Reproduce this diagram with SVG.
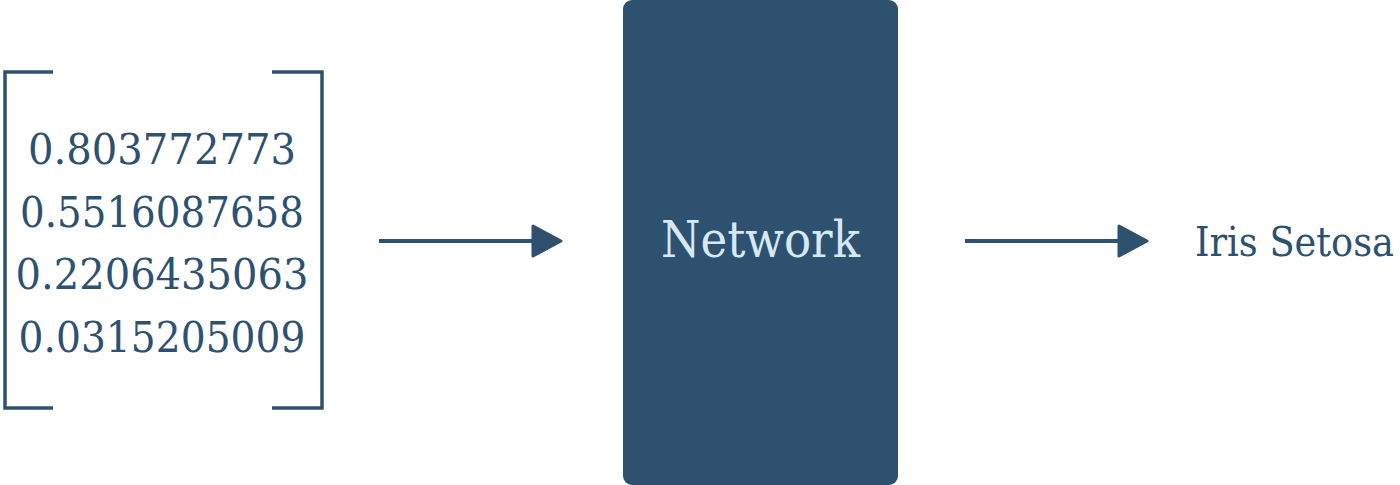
<svg xmlns="http://www.w3.org/2000/svg" width="1400" height="485" viewBox="0 0 1400 485">
<style>
.ink{fill:none;stroke:#2e5170;stroke-width:3.5;stroke-linecap:butt}
.num{font-family:"DejaVu Serif","Liberation Serif",serif;font-size:42px;fill:#2e5170;text-anchor:middle}
.lbl{font-family:"DejaVu Serif","Liberation Serif",serif;fill:#2e5170}
.cond{font-family:"DejaVu Serif Condensed","DejaVu Serif","Liberation Serif",serif;font-stretch:condensed}
.conn{stroke:#2e5170;stroke-width:4;fill:none}
</style>
<defs>
<marker id="ah" markerUnits="userSpaceOnUse" markerWidth="32" markerHeight="34" refX="2" refY="17" orient="auto">
<path d="M2,2 L30,17 L2,32 Z" fill="#2e5170" stroke="#2e5170" stroke-width="3" stroke-linejoin="round"/>
</marker>
</defs>
<g id="input">
<path class="ink" d="M53,72 H5 V408 H53"/>
<path class="ink" d="M272,72 H322 V408 H272"/>
<text class="num" x="162" y="164" textLength="268" lengthAdjust="spacingAndGlyphs">0.803772773</text>
<text class="num" x="162" y="227" textLength="284" lengthAdjust="spacingAndGlyphs">0.5516087658</text>
<text class="num" x="162" y="289" textLength="293" lengthAdjust="spacingAndGlyphs">0.2206435063</text>
<text class="num" x="162" y="352" textLength="287" lengthAdjust="spacingAndGlyphs">0.0315205009</text>
</g>
<g id="network">
<rect x="623" y="0" width="275" height="485" rx="9" fill="#2e5170"/>
<text class="lbl" x="661" y="257" font-size="50" style="fill:#d6e8f5" textLength="199" lengthAdjust="spacingAndGlyphs">Network</text>
</g>
<g id="output">
<text class="lbl cond" x="1195" y="256" font-size="41" textLength="199" lengthAdjust="spacingAndGlyphs">Iris Setosa</text>
</g>
<g id="connectors">
<line class="conn" x1="379" y1="241" x2="533" y2="241" marker-end="url(#ah)"/>
<line class="conn" x1="965" y1="241" x2="1119" y2="241" marker-end="url(#ah)"/>
</g>
</svg>
